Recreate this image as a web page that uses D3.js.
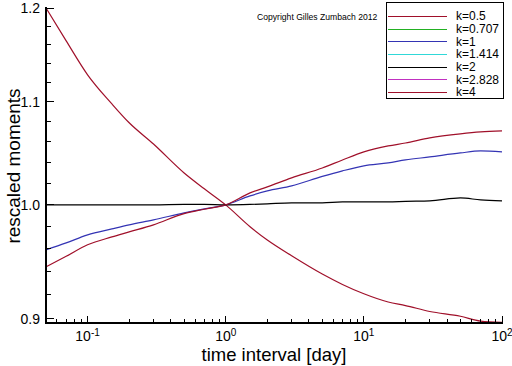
<!DOCTYPE html>
<html>
<head>
<meta charset="utf-8">
<script src="https://cdn.jsdelivr.net/npm/d3@7"></script>
<style>
  html, body { margin: 0; padding: 0; background: #fff; }
  svg { display: block; }
  text { font-family: "Liberation Sans", Arial, sans-serif; fill: #000; }
</style>
</head>
<body>
<svg id="chart" width="512" height="366"></svg>
<script>
// ---- data ----
const timeDays = [0.05, 0.07, 0.1, 0.15, 0.2, 0.3, 0.5, 0.7, 1, 1.5, 2, 3, 5, 7, 10, 15, 20, 30, 50, 70, 100];
const momentK05 = [1.200, 1.164, 1.128, 1.098, 1.079, 1.058, 1.030, 1.015, 1.000, 0.980, 0.968, 0.954, 0.938, 0.929, 0.921, 0.914, 0.911, 0.906, 0.902, 0.898, 0.897];
const momentK1  = [0.9592, 0.9654, 0.9726, 0.9780, 0.9817, 0.9862, 0.9926, 0.9963, 1.000, 1.0084, 1.0130, 1.0177, 1.0267, 1.0320, 1.0368, 1.0396, 1.0425, 1.0454, 1.0493, 1.0512, 1.0503];
const momentK2  = [1.000, 1.000, 1.000, 1.000, 1.000, 1.000, 1.0004, 1.0004, 1.000, 1.0004, 1.001, 1.0019, 1.0019, 1.0028, 1.0028, 1.0028, 1.0033, 1.0037, 1.0065, 1.0046, 1.0037];
const momentK4  = [0.9443, 0.9535, 0.9637, 0.9708, 0.9753, 0.9817, 0.9920, 0.9960, 1.000, 1.0112, 1.0168, 1.0253, 1.0348, 1.0425, 1.0503, 1.0561, 1.0590, 1.0640, 1.0680, 1.0699, 1.0709];

const legendLabels = ["k=0.5", "k=0.707", "k=1", "k=1.414", "k=2", "k=2.828", "k=4"];
const legendColors = ["#a0102a", "#22b022", "#3434b4", "#30d8d8", "#000000", "#c030c0", "#a0102a"];

const yMajorTicks = [0.9, 1.0, 1.1, 1.2];
const yMinorTicks = [0.92, 0.94, 0.96, 0.98, 1.02, 1.04, 1.06, 1.08, 1.12, 1.14, 1.16, 1.18];
const xMajorTicks = [0.1, 1, 10, 100];
const xMajorExponents = ["-1", "0", "1", "2"];
const xMinorTicks = [0.06, 0.07, 0.08, 0.09, 0.2, 0.3, 0.4, 0.5, 0.6, 0.7, 0.8, 0.9,
                     2, 3, 4, 5, 6, 7, 8, 9, 20, 30, 40, 50, 60, 70, 80, 90];

const seriesDrawn = [
  { values: momentK05, color: legendColors[0] },
  { values: momentK1,  color: legendColors[2] },
  { values: momentK2,  color: legendColors[4] },
  { values: momentK4,  color: legendColors[6] }
];

// ---- layout ----
const svg = d3.select("#chart");
const x = d3.scaleLog().domain([0.05, 100]).range([46, 502]);
const y = d3.scaleLog().domain([0.8964, 1.2]).range([323, 8]);

// lines
const line = d3.line()
  .x((d, i) => x(timeDays[i]))
  .y(d => y(d))
  .curve(d3.curveMonotoneX);

svg.append("g").selectAll("path")
  .data(seriesDrawn)
  .join("path")
  .attr("d", s => line(s.values))
  .attr("fill", "none")
  .attr("stroke", s => s.color)
  .attr("stroke-width", 1.2);

// y axis
const gy = svg.append("g").attr("shape-rendering", "crispEdges");
gy.append("line").attr("x1", 46).attr("x2", 46).attr("y1", 7).attr("y2", 324)
  .attr("stroke", "#000").attr("stroke-width", 2);
gy.selectAll("line.maj").data(yMajorTicks).join("line").attr("class", "maj")
  .attr("x1", 46).attr("x2", 54).attr("y1", d => y(d)).attr("y2", d => y(d))
  .attr("stroke", "#000").attr("stroke-width", 1);
gy.selectAll("line.min").data(yMinorTicks).join("line").attr("class", "min")
  .attr("x1", 46).attr("x2", 51).attr("y1", d => y(d)).attr("y2", d => y(d))
  .attr("stroke", "#000").attr("stroke-width", 1);
svg.append("g").selectAll("text").data(yMajorTicks).join("text")
  .attr("x", 40).attr("y", d => y(d)).attr("dy", "0.36em")
  .attr("text-anchor", "end").attr("font-size", 14)
  .text(d => d3.format(".1f")(d));

// x axis
const gx = svg.append("g").attr("shape-rendering", "crispEdges");
gx.append("line").attr("x1", 45).attr("x2", 503).attr("y1", 323).attr("y2", 323)
  .attr("stroke", "#000").attr("stroke-width", 2);
gx.selectAll("line.maj").data(xMajorTicks).join("line").attr("class", "maj")
  .attr("x1", d => x(d)).attr("x2", d => x(d)).attr("y1", 323).attr("y2", 316)
  .attr("stroke", "#000").attr("stroke-width", 1);
gx.selectAll("line.min").data(xMinorTicks).join("line").attr("class", "min")
  .attr("x1", d => x(d)).attr("x2", d => x(d)).attr("y1", 323).attr("y2", 319)
  .attr("stroke", "#000").attr("stroke-width", 1);
const xl = svg.append("g").selectAll("text").data(xMajorTicks).join("text")
  .attr("x", d => x(d)).attr("y", 341)
  .attr("text-anchor", "middle").attr("font-size", 14);
xl.append("tspan").text("10");
xl.append("tspan").attr("dy", -5).attr("font-size", 10).text((d, i) => xMajorExponents[i]);

// axis titles
svg.append("text").attr("x", 274).attr("y", 361).attr("text-anchor", "middle")
  .attr("font-size", 18.5).text("time interval [day]");
svg.append("text").attr("transform", "translate(20,166) rotate(-90)")
  .attr("text-anchor", "middle").attr("font-size", 19).text("rescaled moments");

// copyright
svg.append("text").attr("x", 257).attr("y", 20).attr("font-size", 8.6)
  .text("Copyright Gilles Zumbach 2012");

// legend
const lg = svg.append("g");
lg.append("rect").attr("x", 386.5).attr("y", 2.5).attr("width", 117).attr("height", 96)
  .attr("fill", "#fff").attr("stroke", "#000").attr("stroke-width", 1);
const rowY = d3.scaleLinear().domain([0, 6]).range([16, 92]);
lg.selectAll("line").data(legendLabels).join("line")
  .attr("x1", 388).attr("x2", 447)
  .attr("y1", (d, i) => Math.round(rowY(i)) + 0.5).attr("y2", (d, i) => Math.round(rowY(i)) + 0.5)
  .attr("stroke", (d, i) => legendColors[i]).attr("stroke-width", 1);
lg.selectAll("text").data(legendLabels).join("text")
  .attr("x", 456).attr("y", (d, i) => rowY(i)).attr("dy", "0.36em")
  .attr("font-size", 12).text(d => d);
</script>
</body>
</html>
